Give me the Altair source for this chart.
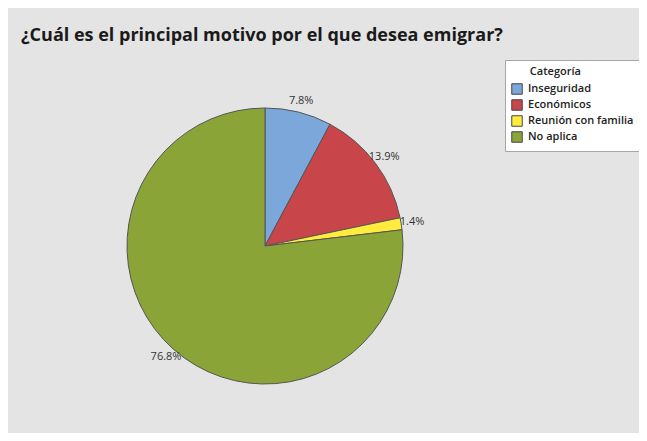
import altair as alt
import pandas as pd

titulo = "¿Cuál es el principal motivo por el que desea emigrar?"
categorias = ["Inseguridad", "Económicos", "Reunión con familia", "No aplica"]
porcentajes = [7.8, 13.9, 1.4, 76.8]
colores = ["#7ba7db", "#c8464a", "#ffec3d", "#8ba438"]

df = pd.DataFrame({
    "categoria": categorias,
    "pct": porcentajes,
    "orden": list(range(len(categorias))),
    "etiqueta": [f"{p:.1f}%" for p in porcentajes],
})

FONT = "Open Sans"
cx, cy = 257, 238

base = alt.Chart(df).encode(
    theta=alt.Theta("pct:Q", stack=True),
    order=alt.Order("orden:Q"),
)

arcs = base.mark_arc(radius=138, stroke="#555555", strokeWidth=1).encode(
    color=alt.Color(
        "categoria:N",
        scale=alt.Scale(domain=categorias, range=colores),
        sort=categorias,
        legend=alt.Legend(title="\u2800\u2800\u00a0Categoría"),
    ),
    x=alt.value(cx),
    y=alt.value(cy),
)

labels = base.mark_text(radius=149, fontSize=11, font=FONT, color="#333333").encode(
    text="etiqueta:N",
    x=alt.value(cx),
    y=alt.value(cy),
)

title = alt.Chart(pd.DataFrame({"t": [titulo]})).mark_text(
    align="left", baseline="alphabetic", fontSize=18, fontWeight="bold", font=FONT, color="#1a1a1a"
).encode(text="t:N", x=alt.value(13), y=alt.value(33))

chart = alt.layer(arcs, labels, title).properties(
    width=631, height=425,
    autosize=alt.AutoSizeParams(type="none"),
    padding=0,
    background="#e4e4e4",
).configure_view(stroke=None).configure_legend(
    orient="none",
    legendX=497,
    legendY=52,
    fillColor="white",
    strokeColor="#a6a6a6",
    padding=6,
    titleFont=FONT,
    titleFontSize=11,
    titleFontWeight=600,
    titleColor="#222222",
    labelFont=FONT,
    labelFontSize=11,
    labelFontWeight=600,
    labelColor="#222222",
    labelOffset=5,
    symbolType="square",
    symbolSize=110,
    symbolStrokeColor="#444444",
    symbolStrokeWidth=1,
    rowPadding=0,
    titlePadding=6,
)

chart.save("out.html", embed_options={"renderer": "svg", "actions": False})
